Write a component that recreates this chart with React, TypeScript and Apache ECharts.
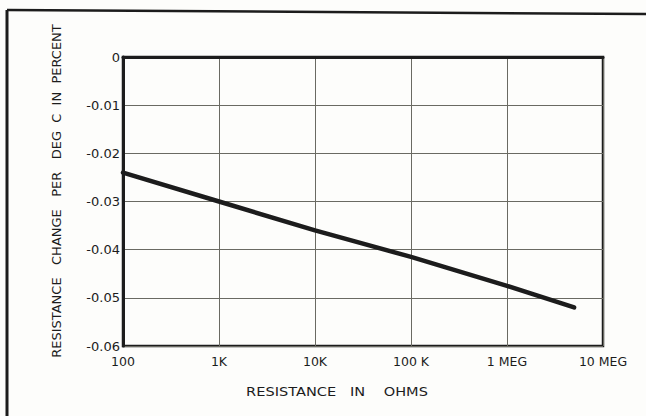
import React, { useEffect, useRef } from "react";
import * as echarts from "echarts";

const resistanceOhms = [100, 1000, 10000, 100000, 1000000, 5000000];
const changePercent = [-0.024, -0.030, -0.036, -0.0415, -0.0475, -0.052];
const xTickLabels: Record<string, string> = {
  "100": "100",
  "1000": "1K",
  "10000": "10K",
  "100000": "100 K",
  "1000000": "1 MEG",
  "10000000": "10 MEG",
};
const yTickValues = [0, -0.01, -0.02, -0.03, -0.04, -0.05, -0.06];
const yTickLabels = ["0", "-0.01", "-0.02", "-0.03", "-0.04", "-0.05", "-0.06"];
const xTitle = "RESISTANCE   IN    OHMS";
const yTitle = "RESISTANCE   CHANGE   PER   DEG  C  IN  PERCENT";

const FONT = "DejaVu Sans";
const INK = "#1c1c1c";

export default function App() {
  const ref = useRef<HTMLDivElement>(null);
  useEffect(() => {
    if (!ref.current) return;
    const chart = echarts.init(ref.current, null, { renderer: "svg" });
    chart.setOption({
      animation: false,
      backgroundColor: "#fdfdfb",
      grid: {
        left: 123,
        top: 57,
        width: 480,
        height: 289,
        show: true,
        borderColor: INK,
        borderWidth: 2.5,
        backgroundColor: "transparent",
      },
      xAxis: {
        type: "log",
        logBase: 10,
        min: 100,
        max: 10000000,
        axisLine: { show: true, lineStyle: { color: INK, width: 3 } },
        axisTick: { show: false },
        splitLine: { show: true, lineStyle: { color: "#6a6a62", width: 1 } },
        minorSplitLine: { show: false },
        axisLabel: {
          margin: 9,
          fontFamily: FONT,
          fontSize: 12.5,
          color: INK,
          formatter: (v: number) => xTickLabels[String(Math.round(v))] ?? "",
        },
      },
      yAxis: {
        type: "value",
        min: -0.06,
        max: 0,
        interval: 0.01,
        axisLine: { show: true, lineStyle: { color: INK, width: 3 } },
        axisTick: { show: false },
        splitLine: { show: true, lineStyle: { color: "#6a6a62", width: 1 } },
        axisLabel: {
          margin: 3,
          fontFamily: FONT,
          fontSize: 13,
          color: INK,
          formatter: (v: number) => {
            let best = 0;
            for (let i = 0; i < yTickValues.length; i++) {
              if (Math.abs(yTickValues[i] - v) < Math.abs(yTickValues[best] - v)) best = i;
            }
            return yTickLabels[best];
          },
        },
      },
      graphic: [
        {
          type: "line",
          shape: { x1: 7, y1: 10, x2: 7, y2: 416 },
          style: { stroke: INK, lineWidth: 3 },
        },
        {
          type: "line",
          shape: { x1: 7, y1: 10, x2: 646, y2: 14 },
          style: { stroke: INK, lineWidth: 2.5 },
        },
        {
          type: "text",
          x: 337,
          y: 391,
          scaleX: 1.12,
          style: {
            text: xTitle,
            fontFamily: FONT,
            fontSize: 13,
            fill: INK,
            align: "center",
            verticalAlign: "middle",
          },
        },
        {
          type: "text",
          x: 56,
          y: 191,
          rotation: Math.PI / 2,
          style: {
            text: yTitle,
            fontFamily: FONT,
            fontSize: 13,
            fill: INK,
            align: "center",
            verticalAlign: "middle",
          },
        },
      ],
      series: [
        {
          type: "line",
          data: resistanceOhms.map((r, i) => [r, changePercent[i]]),
          symbol: "none",
          lineStyle: { color: INK, width: 4.5, cap: "round" },
        },
      ],
    });
    return () => chart.dispose();
  }, []);
  return <div ref={ref} style={{ width: 646, height: 416, position: "absolute", left: 0, top: 0 }} />;
}
